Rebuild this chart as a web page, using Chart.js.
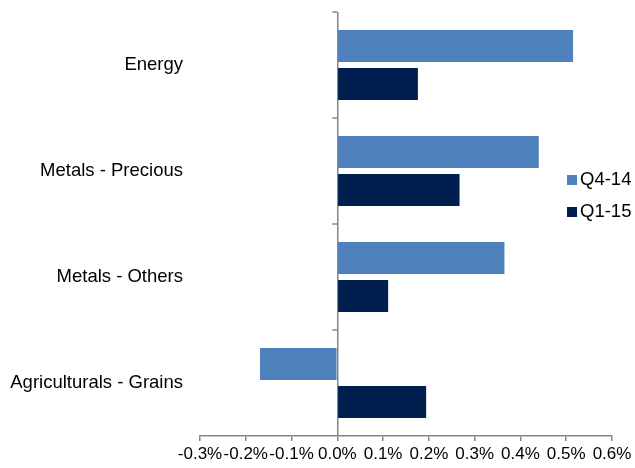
<!DOCTYPE html>
<html>
<head>
<meta charset="utf-8">
<script src="https://cdn.jsdelivr.net/npm/chart.js@4"></script>
<style>
    html, body { margin: 0; padding: 0; background: #fff; }
    #wrap { position: relative; width: 635px; height: 468px; }
</style>
</head>
<body>
<div id="wrap"><canvas id="chart"></canvas></div>
<script>
// категории и значения (в процентах)
const categories = ['Energy', 'Metals - Precious', 'Metals - Others', 'Agriculturals - Grains'];
const seriesNames = ['Q4-14', 'Q1-15'];
const q414 = [0.515, 0.440, 0.365, -0.169];
const q115 = [0.176, 0.267, 0.111, 0.194];
const xTicks = [-0.3, -0.2, -0.1, 0.0, 0.1, 0.2, 0.3, 0.4, 0.5, 0.6];

const axisColor = '#868686';
const colors = ['#4F81BD', '#001F4E'];
const font = 'Liberation Sans, Arial, sans-serif';

// короткие засечки на нулевой оси между категориями
const zeroTicksPlugin = {
    id: 'zeroTicks',
    afterDatasetsDraw(chart) {
        const { ctx } = chart;
        const x0 = chart.scales.x.getPixelForValue(0);
        const y = chart.scales.y;
        ctx.save();
        ctx.strokeStyle = axisColor;
        ctx.lineWidth = 1.5;
        for (let i = 0; i < categories.length; i++) {
            const py = y.getPixelForValue(i - 0.5);
            ctx.beginPath();
            ctx.moveTo(x0 - 5, py);
            ctx.lineTo(x0, py);
            ctx.stroke();
        }
        ctx.restore();
    }
};

// легенда справа, поверх области графика
const sideLegendPlugin = {
    id: 'sideLegend',
    afterDraw(chart) {
        const { ctx } = chart;
        ctx.save();
        ctx.font = '18.5px ' + font;
        ctx.textBaseline = 'middle';
        ctx.textAlign = 'left';
        chart.data.datasets.forEach((ds, i) => {
            const cy = 180 + i * 32;
            ctx.fillStyle = ds.backgroundColor;
            ctx.fillRect(567, cy - 5, 10, 10);
            ctx.fillStyle = '#000';
            ctx.fillText(ds.label, 580, cy);
        });
        ctx.restore();
    }
};

new Chart(document.getElementById('chart'), {
    type: 'bar',
    data: {
        labels: categories,
        datasets: [
            { label: seriesNames[0], data: q414, backgroundColor: colors[0] },
            { label: seriesNames[1], data: q115, backgroundColor: colors[1] }
        ]
    },
    options: {
        indexAxis: 'y',
        responsive: true,
        maintainAspectRatio: false,
        animation: false,
        categoryPercentage: 0.717,
        barPercentage: 0.84,
        layout: { padding: { top: 12, right: 23, left: 0, bottom: 0 } },
        plugins: { legend: { display: false }, tooltip: { enabled: false } },
        scales: {
            x: {
                min: -0.3, max: 0.6,
                afterBuildTicks: s => { s.ticks = xTicks.map(v => ({ value: v })); },
                afterFit: s => { s.height = 32; s.paddingLeft = 0; s.paddingRight = 0; },
                border: { display: true, color: axisColor, width: 1.5 },
                grid: {
                    color: c => (c.tick && Math.abs(c.tick.value) < 1e-9) ? axisColor : 'rgba(0,0,0,0)',
                    lineWidth: 1.5,
                    tickColor: axisColor,
                    tickLength: 5,
                    drawTicks: true
                },
                ticks: {
                    color: '#000',
                    font: { family: font, size: 17 },
                    padding: 3,
                    maxRotation: 0,
                    autoSkip: false,
                    callback: v => (Math.abs(v) < 1e-9 ? 0 : v).toFixed(1) + '%'
                }
            },
            y: {
                afterFit: s => { s.width = 200; s.paddingTop = 0; s.paddingBottom = 0; },
                border: { display: false },
                grid: { display: false },
                ticks: {
                    color: '#000',
                    font: { family: font, size: 18.5 },
                    padding: 9
                }
            }
        }
    },
    plugins: [zeroTicksPlugin, sideLegendPlugin]
});
</script>
</body>
</html>
